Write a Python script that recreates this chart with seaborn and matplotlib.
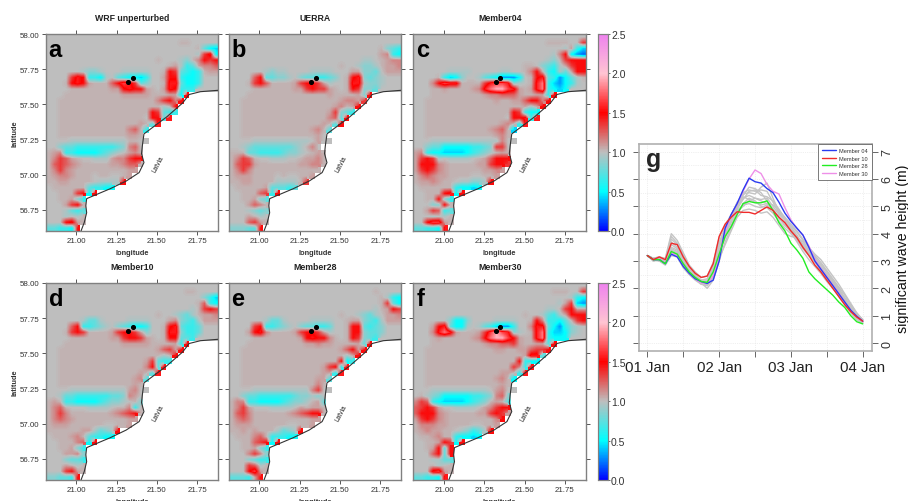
import numpy as np
import pandas as pd
import seaborn as sns
import matplotlib.pyplot as plt
from matplotlib.colors import LinearSegmentedColormap

sns.set_style('white')
plt.rcParams['font.family'] = ['Liberation Sans', 'DejaVu Sans']

# each character is one cell, looked up in code_chars / code_values; '.' = land
code_chars = '0123456789abcdefghijk'
code_values = [0.0, 0.1, 0.2, 0.3, 0.42, 0.52, 0.65, 0.76, 0.86, 0.95, 1.0,
               1.03, 1.08, 1.15, 1.25, 1.35, 1.47, 1.56, 1.66, 1.8, 1.95]

panel_a = [
    'aaaaaaaaaaaaaaaaaaaaaaaaaaaaaa',
    'aaaaaaaaaaaaaaaaaaaaaaabbaaaaa',
    'aaaaaaaaaaaaaaaaaaaaaaaaaab754',
    'aaaaaaaaaaaaaaaaaaaaaaaaaa9fh5',
    'aaaaaaaaaaaaaaaaaaabaaa98bdgfg',
    'aaaaaaaaaaaaaaaaaaaaabc967cdde',
    'aaaaaa9889aaa99999aabgf7656bcc',
    'aaaafhg6659a765546aacgg6556aaa',
    'aaabghgcbbbegihf78aabhh7556aaa',
    'aaaabbbbbbbccghggcbachg666aaaa',
    'aaabbbbbbbbbbcccccbbbcc5g',
    'aabbbbbbbbbbbbbbbbbdfgdg',
    'aabbbbbbbbbbbbbbbbbb9bg',
    'aabbbbbbbbbbbbbbbbgf766',
    'aabbbbbbbbbbbbbbbagg7h',
    'aabbbbbbbbbbbbbbcb7h',
    'aabbbbbbbbbbbbdeb6',
    'aabbbbbbbbbbbbccb',
    'aaaa9999999999bbaa',
    'aa877666666678dea',
    'bcd6655556789acdb',
    'bdfecbaa999cddfgg',
    'befedcbbbbbccdeeb',
    'bdfdcbbbbbbbbbcc',
    'bcddcbbbabbaabc',
    'bbccbbbba9999g',
    'abbbbbb76655',
    'aabbbfg5g',
    'aabbc86',
    'aaacfgb',
    'aaa9767',
    'aaa9a9b',
    'aaaghcb',
    '77665g',
]
panel_b = [
    'aaaaaaaaaaaaaaaaaaaaaaaaaaaaaa',
    'aaaaaaaaaaaaaaaaaaaaaaaaaaaaaa',
    'aaaaaaaaaaaaaaaaaaaaaaaaaab876',
    'aaaaaaaaaaaaaaaaaaaaaaaaaacd65',
    'aaaaaaaaaaaaaaaaaaaaaaa99abcdd',
    'aaaaaaaaaaaaaaaaaaabaa9889bccd',
    'aaaaaa9899aaaa9999aaacc887accc',
    'aaaaeg77889a8776678abgh8789aaa',
    'aaabfgebbbbcfggfc9aabhh9889aaa',
    'aaaabbbbbbbccfgffcbabgf887aaaa',
    'aaabbbbbbbbbbbbbbcbbbbc8g',
    'aabbbbbbbbbbbbbbbbbcddcf',
    'aabbbbbbbbbbbbbbbbcdbcg',
    'aabbbbbbbbbbbbbbbcf876',
    'aabbbbbbbbbbbbbbbde7g',
    'aabbbbbbbbbbbbbbcb7g',
    'aabbbbbbbbbbbbcdb7',
    'aabbbbbbbbbbbbbca',
    'aaaa9999999999acaa',
    'aa98777777789bda',
    'bbb7766667889abcb',
    'bdfebaa999aabccdb',
    'beffcbbbbbbbccddb',
    'bdfdbbbbbbbbbbbb',
    'bcccbbbbabaabbc',
    'bbccbbbb9999bf',
    'abbbbbc77767',
    'aabbbef6g',
    'aabbc87',
    'aaacedb',
    'aaa9878',
    'aaacb9a',
    'aaaefcb',
    '88877g',
]
panel_c = [
    'aaaaaaaaaaaaaaaaaaaaaaaaaaaaaa',
    'aaaaaaaaaaaaaaaaaaaaaaabbbbaaf',
    'aaaaaaaaaaaaaaaaaaaaaaaaaa9c64',
    'aaaaaaaaaaaaaaaaaaaaaaaa9dg532',
    'aaaaaaaaaaaaaaaaaaaaaaa98bfggg',
    'aaaaaaaaaaaaaaaaaaabba8769cfgg',
    'aaaaaa9999aaaaa99aabdgb6597cgg',
    'aaaab6458aa97653335abgh763579b',
    'aaadgihhbbbbfhiih89abhj643569a',
    'aaabbcbbbbcdhjkkihcbchj6545aaa',
    'aaabbbbbbbbbcddeeecbbcc6g',
    'aabbbbbbbbbbbbcbbcceggdg',
    'aabbbbbbbbbbbbbbbbbc9cg',
    'aabbbbbbbbbbbbbbbgf655',
    'aabbbbbbbbbbbbbbaggh6h',
    'aabbbbbbbbbbbbbcdb6h',
    'aabbbbbbbbbbbcdeb4',
    'aabbbbbbbbbbbbcdb',
    'aaa999999999999daa',
    'aa877555556678ffa',
    'cd655444456789bcb',
    'cfgf9a9999abceggg',
    'cgggdcbbbbbccfggf',
    'cfgfdcbbbbbbccdc',
    'bdedccbbbbaabbc',
    'bccdcbba99889g',
    'abbbbbb65545',
    'aabbbgh5g',
    'aabbg86',
    'aaa88gb',
    'aacfe67',
    'aaa9a9b',
    'aagiicb',
    '77665h',
]
panel_d = [
    'aaaaaaaaaaaaaaaaaaaaaaaaaaaaaa',
    'aaaaaaaaaaaaaaaaaaaaaaaabbaaaa',
    'aaaaaaaaaaaaaaaaaaaaaaaaaaa864',
    'aaaaaaaaaaaaaaaaaaaaaaaaaabe65',
    'aaaaaaaaaaaaaaaaaaaaaaaaa9bfgf',
    'aaaaaaaaaaaaaaaaaaabaa9879bccd',
    'aaaaaa9779aaaa9999aaacd8769ccc',
    'aaaaeg66789a876556aabgh7667aaa',
    'aaabfgfbbbbcfggfc8aabhh8667aaa',
    'aaaabbbbbbbccfggfcbabgg776aaaa',
    'aaabbbbbbbbbbcccccbbbbc6g',
    'aabbbbbbbbbbbbbbbbbcefcg',
    'aabbbbbbbbbbbbbbbbbb9bg',
    'aabbbbbbbbbbbbbbbcf766',
    'aabbbbbbbbbbbbbbbdg7h',
    'aabbbbbbbbbbbbbbcb7h',
    'aabbbbbbbbbbbbbcd7',
    'aabbbbbbbbbbbbbcb',
    'aaaa9999999999cdaa',
    'aa977666666778dca',
    'bcb66555567889ab8',
    'bdebaaa9999abbd6b',
    'bdfdbbbbbbbcdefgb',
    'bdedcbbbbbbbbbcc',
    'bcccbbbbbbaabbc',
    'bbbbbbcc9789g',
    'abbbcdb76655',
    'aabbbde5g',
    'aabbc86',
    'aaaccd8',
    'aaa8776',
    'aaacb9b',
    'aaafgcb',
    '88776g',
]
panel_e = [
    'aaaaaaaaaaaaaaaaaaaaaaaaaaaaaa',
    'aaaaaaaaaaaaaaaaaaaaaaaaabaaaa',
    'aaaaaaaaaaaaaaaaaaaaaaaaaab965',
    'aaaaaaaaaaaaaaaaaaaaaaaaaabf75',
    'aaaaaaaaaaaaaaaaaaaaaaaaa9bcgf',
    'aaaaaaaaaaaaaaaaaaabaa9879accd',
    'aaaaaa9779aaaa9999aabcc8769ccc',
    'aaaafg66789a877667aabgg7678aaa',
    'aaacghdbbbbcfggfc9aabgg8778aaa',
    'aaaabbbbbbbbcghggdbabgf876aaaa',
    'aaabbbbbbbbbbccdccbbbbc7g',
    'aabbbbbbbbbbbbbbbbbcegcg',
    'aabbbbbbbbbbbbbbbbbb9cg',
    'aabbbbbbbbbbbbbbbbbg56',
    'aabbbbbbbbbbbbbbcfg6h',
    'aabbbbbbbbbbbbbbcc6h',
    'aabbbbbbbbbbbbbcc7',
    'aabbbbbbbbbbbbbdb',
    'aaaa9999999999dfaa',
    'aa87766666678898a',
    'bdd66555567889bc7',
    'bdfcaaa9999acbccb',
    'befdbbbbbbcdefggb',
    'bdedbbbbbbbbbbcc',
    'bcccbbbbbbaabbc',
    'bbcbcbbb9789g',
    'abbbdeb66655',
    'aabbefg5g',
    'aabbc86',
    'aaadfd8',
    'aaa8766',
    'aaafe9b',
    'aaagicb',
    '7776cg',
]
panel_f = [
    'aaaaaaaaaaaaaaaaaaaaaaaaaaaaaa',
    'aaaaaaaaaaaaaaaaaaaaaaaabbbaaf',
    'aaaaaaaaaaaaaaaaaaaaaaaaaaa965',
    'aaaaaaaaaaaaaaaaaaaaaaaaa9cf43',
    'aaaaaaaaaaaaaaaaaaaaaaa99bfgcc',
    'aaaaaaaaaaaaaaaaaaabaa9769cggg',
    'aaaaaa8558aaaa9999aabgd6657bfg',
    'aaacgh7559a9764336aadhh753689a',
    'aaadhjhcbbbcfikih89abhj644589a',
    'aaabcbbbbbcdgjkkigcbbhj6555aaa',
    'aaabbbbbbbbbcddeefcbbcc7g',
    'aabbbbbbbbbbbbccbbcceffg',
    'aabbbbbbbbbbbbbbbbbchh7',
    'aabbbbbbbbbbbbbbbbg655',
    'aabbbbbbbbbbbbbbbfd6h',
    'aabbbbbbbbbbbbbccb6h',
    'aabbbbbbbbbbbbcdb5',
    'aabbbbbbbbbbbbbcb',
    'aaa9999999999acdaa',
    'ab987555556678de8',
    'dfe6544445678bcb7',
    'efgfcaa9999acdfgg',
    'egggdcbbbbbccfgfc',
    'cfgfdcbbbbbbbbdg',
    'bdddccbbbbaabbc',
    'bcdccbba98679g',
    'abbcdbb65545',
    'aabbcgf5g',
    'aabcg7g',
    'aaaeg7g',
    'aaa9977',
    'aaab9ab',
    'aaahicb',
    '77665h',
]

panel_names = ['WRF unperturbed', 'UERRA', 'Member04', 'Member10', 'Member28', 'Member30']
panel_letters = ['a', 'b', 'c', 'd', 'e', 'f']
panel_rows = [panel_a, panel_b, panel_c, panel_d, panel_e, panel_f]

coast_lon = [21.88, 21.77, 21.70, 21.66, 21.56, 21.49, 21.42, 21.41, 21.405, 21.42, 21.39, 21.31, 21.21, 21.065, 21.06, 21.065, 21.05, 21.03]
coast_lat = [57.60, 57.59, 57.57, 57.51, 57.41, 57.35, 57.29, 57.205, 57.15, 57.086, 57.015, 56.955, 56.90, 56.83, 56.78, 56.73, 56.66, 56.60]
point_lon = [21.35, 21.32]
point_lat = [57.69, 57.66]

lon_ticks = [21.00, 21.25, 21.50, 21.75]
lat_ticks = [56.75, 57.00, 57.25, 57.50, 57.75, 58.00]
cbar_ticks = [0.0, 0.5, 1.0, 1.5, 2.0, 2.5]

hours = list(range(0, 73, 2))
member04 = [3.2, 3.05, 3.05, 2.9, 3.25, 3.15, 2.8, 2.55, 2.35, 2.25, 2.18, 2.3, 3.0, 4.2, 4.7, 5.1, 5.6, 6.03, 5.9, 5.85, 5.65, 5.5, 5.15, 4.75, 4.45, 4.2, 3.95, 3.5, 3.0, 2.7, 2.4, 2.1, 1.8, 1.5, 1.2, 0.98, 0.8]
member10 = [3.2, 3.05, 3.15, 3.05, 3.65, 3.6, 3.15, 2.8, 2.55, 2.4, 2.45, 2.9, 3.9, 4.35, 4.6, 4.8, 4.78, 4.78, 4.72, 4.85, 4.98, 4.85, 4.6, 4.4, 4.1, 3.85, 3.5, 3.2, 2.85, 2.6, 2.3, 2.0, 1.7, 1.4, 1.15, 0.95, 0.8]
member28 = [3.2, 3.05, 3.05, 2.9, 3.35, 3.25, 2.9, 2.6, 2.4, 2.25, 2.22, 2.6, 3.25, 3.9, 4.25, 4.7, 5.1, 5.18, 5.13, 5.13, 5.2, 4.85, 4.4, 4.1, 3.65, 3.4, 3.1, 2.6, 2.35, 2.15, 1.95, 1.75, 1.5, 1.3, 1.0, 0.78, 0.7]
member30 = [3.2, 3.05, 3.05, 2.95, 3.3, 3.2, 2.85, 2.55, 2.35, 2.2, 2.2, 2.45, 3.2, 4.1, 4.65, 5.1, 5.55, 6.0, 6.33, 6.2, 5.8, 5.55, 5.45, 4.95, 4.5, 4.2, 3.95, 3.55, 3.05, 2.72, 2.42, 2.12, 1.82, 1.5, 1.2, 0.96, 0.8]
gray01 = [3.2, 3.1, 3.15, 3.1, 4.0, 3.75, 3.3, 2.85, 2.6, 2.4, 2.45, 2.95, 3.85, 4.3, 4.7, 5.1, 5.45, 5.5, 5.45, 5.7, 5.85, 5.3, 4.8, 4.55, 4.25, 3.95, 3.6, 3.3, 3.0, 2.75, 2.45, 2.2, 1.9, 1.6, 1.3, 1.0, 0.8]
gray02 = [3.2, 3.05, 3.0, 2.85, 3.2, 3.15, 2.75, 2.5, 2.3, 2.15, 2.1, 2.4, 3.1, 3.6, 4.1, 4.6, 4.85, 4.9, 4.85, 4.75, 4.8, 4.6, 4.3, 4.0, 3.9, 3.85, 3.7, 3.35, 3.05, 2.7, 2.4, 2.1, 1.85, 1.6, 1.3, 1.05, 0.85]
gray03 = [3.2, 3.05, 3.05, 3.0, 3.8, 3.6, 3.1, 2.7, 2.45, 2.25, 2.2, 2.6, 3.5, 4.05, 4.45, 5.0, 5.3, 5.4, 5.3, 5.25, 5.3, 5.0, 4.7, 4.5, 4.2, 3.9, 3.55, 3.3, 3.1, 2.9, 2.6, 2.3, 1.95, 1.6, 1.25, 1.0, 0.8]
gray04 = [3.2, 3.1, 3.1, 3.0, 3.5, 3.4, 3.0, 2.65, 2.4, 2.2, 2.1, 2.45, 3.3, 3.95, 4.4, 4.9, 5.25, 5.55, 5.6, 5.4, 5.35, 5.2, 4.9, 4.55, 4.3, 4.05, 3.75, 3.4, 3.15, 2.85, 2.6, 2.3, 2.0, 1.65, 1.35, 1.05, 0.85]
gray05 = [3.2, 3.0, 3.05, 2.9, 3.6, 3.45, 3.05, 2.75, 2.5, 2.3, 2.3, 2.75, 3.6, 4.15, 4.55, 4.85, 5.05, 5.1, 5.0, 4.95, 5.05, 4.9, 4.6, 4.3, 4.1, 3.8, 3.45, 3.2, 3.0, 2.75, 2.5, 2.2, 1.9, 1.55, 1.25, 0.95, 0.75]
gray06 = [3.2, 3.05, 3.1, 3.05, 3.4, 3.3, 2.95, 2.6, 2.4, 2.2, 2.0, 2.3, 3.0, 3.7, 4.2, 4.7, 5.1, 5.3, 5.2, 5.0, 4.95, 4.75, 4.45, 4.2, 4.0, 3.75, 3.5, 3.25, 2.95, 2.65, 2.35, 2.05, 1.75, 1.45, 1.15, 0.9, 0.75]
gray07 = [3.2, 3.1, 3.15, 3.05, 3.9, 3.65, 3.25, 2.8, 2.5, 2.3, 2.35, 2.85, 3.7, 4.2, 4.6, 5.05, 5.5, 5.6, 5.55, 5.6, 5.55, 5.15, 4.75, 4.5, 4.15, 3.85, 3.6, 3.4, 3.2, 2.95, 2.65, 2.35, 2.05, 1.75, 1.4, 1.1, 0.85]
gray08 = [3.2, 3.05, 3.0, 2.95, 3.3, 3.25, 2.9, 2.6, 2.35, 2.15, 2.15, 2.5, 3.3, 3.85, 4.3, 4.8, 5.0, 5.2, 5.3, 5.2, 5.1, 4.85, 4.6, 4.4, 4.05, 3.7, 3.35, 3.05, 2.8, 2.55, 2.25, 2.0, 1.7, 1.4, 1.1, 0.85, 0.72]
gray09 = [3.2, 3.05, 3.05, 3.0, 3.7, 3.5, 3.05, 2.7, 2.45, 2.25, 2.25, 2.7, 3.6, 4.2, 4.65, 5.15, 5.35, 5.25, 5.15, 5.05, 5.1, 5.05, 4.85, 4.6, 4.35, 4.1, 3.8, 3.5, 3.25, 3.05, 2.75, 2.45, 2.15, 1.8, 1.45, 1.1, 0.85]
gray10 = [3.2, 3.0, 3.05, 2.9, 3.45, 3.35, 2.95, 2.6, 2.35, 2.2, 2.2, 2.55, 3.4, 4.0, 4.5, 4.95, 5.4, 5.7, 5.65, 5.5, 5.2, 4.9, 4.55, 4.3, 4.1, 3.9, 3.6, 3.3, 3.05, 2.8, 2.5, 2.25, 1.95, 1.65, 1.3, 1.0, 0.8]
gray_members = [gray01, gray02, gray03, gray04, gray05, gray06, gray07, gray08, gray09, gray10]
day_labels = ['01 Jan', '02 Jan', '03 Jan', '04 Jan']
wave_ticks = [0, 1, 2, 3, 4, 5, 6, 7]

W, H = 908, 502
NCOL, NROW = 30, 34
LON0, LON1 = 20.81, 21.88
LAT0, LAT1 = 58.0, 56.6
EDGE = '#808080'
TICKTXT = '#333333'

ratio_cmap = LinearSegmentedColormap.from_list('ratio', [
    (0.0, '#0000ff'), (0.2, '#00ffff'), (0.4, '#bebebe'),
    (0.6, '#ff0000'), (0.8, '#ffc4d2'), (1.0, '#ee82ee')])


def px_axes(left, top, right, bottom):
    return fig.add_axes([left / W, 1 - bottom / H, (right - left) / W, (bottom - top) / H])


def x_cell(lon):
    return (np.asarray(lon) - LON0) / (LON1 - LON0) * NCOL


def y_cell(lat):
    return (LAT0 - np.asarray(lat)) / (LAT0 - LAT1) * NROW


def decode(rows):
    out = []
    for r in rows:
        r = r.ljust(NCOL, '.')
        out.append([np.nan if ch == '.' else code_values[code_chars.index(ch)] for ch in r])
    return pd.DataFrame(out)


fig = plt.figure(figsize=(W / 100, H / 100), dpi=100)

lefts = [45.5, 228.5, 413.3]
tops = [35, 284]
for i in range(6):
    col, row = i % 3, i // 3
    left, top = lefts[col], tops[row]
    ax = px_axes(left, top, left + 172.7, top + 197)
    cax = None
    if col == 2:
        cax = px_axes(597.5, top, 607.5, top + 197)
    field = decode(panel_rows[i])
    sns.heatmap(field, ax=ax, cmap=ratio_cmap, vmin=0, vmax=2.5,
                cbar=col == 2, cbar_ax=cax, xticklabels=False, yticklabels=False)
    # soften the cells like the printed figure; the heatmap still shows at the coast
    ax.imshow(field.values, cmap=ratio_cmap, vmin=0, vmax=2.5, aspect='auto',
              extent=(0, NCOL, NROW, 0), interpolation='bilinear', zorder=1.5)

    ax.plot(x_cell(coast_lon), y_cell(coast_lat), color='#333333', lw=0.8, zorder=3)
    ax.scatter(x_cell(point_lon), y_cell(point_lat), s=7, color='black', zorder=5)
    ax.text(x_cell(21.51), y_cell(57.08), 'Latvia', rotation=62, fontsize=4.8,
            ha='center', va='center', color='#222222')
    ax.text(0.018, 0.98, panel_letters[i], transform=ax.transAxes, fontsize=17,
            fontweight='bold', ha='left', va='top', color='black')

    ax.set_xlim(0, NCOL)
    ax.set_ylim(NROW, 0)
    ax.set_xticks(x_cell(lon_ticks))
    ax.set_yticks(y_cell(lat_ticks))
    ax.set_xticklabels(['%.2f' % v for v in lon_ticks], rotation=0)
    if col == 0:
        ax.set_yticklabels(['%.2f' % v for v in lat_ticks], rotation=0)
        ax.set_ylabel('latitude', fontsize=5.3, fontweight='bold', color=TICKTXT, labelpad=0.5)
    else:
        ax.set_yticklabels([])
    ax.set_xlabel('longitude', fontsize=5.3, fontweight='bold', color=TICKTXT, labelpad=3.2)
    ax.set_title(panel_names[i], fontsize=6.3, fontweight='bold', color='#222222', pad=10)
    ax.tick_params(axis='both', which='major', length=3, width=0.7, color='#555555',
                   labelsize=5.7, labelcolor=TICKTXT, top=True, right=True, left=True,
                   bottom=True, pad=1.5)
    for spine in ax.spines.values():
        spine.set_visible(True)
        spine.set_color(EDGE)
        spine.set_linewidth(1.0)

    if cax is not None:
        cax.set_yticks(cbar_ticks)
        cax.set_yticklabels(['%.1f' % v for v in cbar_ticks])
        cax.tick_params(length=1.5, width=0.6, labelsize=7.5, labelcolor='#333333', pad=1,
                        color='#555555')
        for spine in cax.spines.values():
            spine.set_visible(True)
            spine.set_color(EDGE)
            spine.set_linewidth(0.8)

# panel g
ax = px_axes(639, 145, 871.7, 351.7)
for g in gray_members:
    sns.lineplot(x=hours, y=g, ax=ax, color='#c4c4c4', lw=1.0, legend=False, zorder=2)
sns.lineplot(x=hours, y=member30, ax=ax, color='#ee8fe8', lw=1.0, label='Member 30', zorder=3)
sns.lineplot(x=hours, y=member04, ax=ax, color='#2a3cf0', lw=1.0, label='Member 04', zorder=4)
sns.lineplot(x=hours, y=member28, ax=ax, color='#22ee22', lw=1.0, label='Member 28', zorder=5)
sns.lineplot(x=hours, y=member10, ax=ax, color='#f02a2a', lw=1.0, label='Member 10', zorder=6)
ax.set_xlim(-2.8, 75.0)
ax.set_ylim(-0.28, 7.28)
ax.set_xticks(range(0, 73, 24))
ax.set_xticklabels(day_labels)
ax.set_xticks(range(12, 72, 24), minor=True)
ax.set_yticks(wave_ticks)
ax.set_yticklabels(wave_ticks, rotation=90, va='center')
ax.set_yticks(np.arange(0.5, 7, 1), minor=True)
ax.grid(which='both', color='#e2e2e2', lw=0.5, ls=':')
ax.yaxis.set_ticks_position('both')
ax.yaxis.set_label_position('right')
ax.tick_params(axis='y', which='major', labelleft=False, labelright=True, left=True, right=True,
               length=4, width=0.7, color='#666666', labelsize=9, labelcolor='#333333', pad=3)
ax.tick_params(axis='y', which='minor', left=False, right=False)
ax.tick_params(axis='x', which='both', bottom=True, length=4, width=0.7, color='#666666',
               labelsize=10.8, labelcolor='#222222', pad=3)
ax.set_ylabel('significant wave height (m)', fontsize=10.2, color='#111111', labelpad=2)
ax.set_xlabel('')
for spine in ax.spines.values():
    spine.set_visible(True)
    spine.set_color('#b0b0b0')
    spine.set_linewidth(1.2)
ax.text(0.03, 0.985, 'g', transform=ax.transAxes, fontsize=18, fontweight='bold', va='top', ha='left')

handles, labels = ax.get_legend_handles_labels()
order = [labels.index(n) for n in ['Member 04', 'Member 10', 'Member 28', 'Member 30']]
leg = ax.legend([handles[j] for j in order], [labels[j] for j in order], loc='upper right',
                fontsize=4.1, frameon=True, fancybox=False, framealpha=1, edgecolor='#666666',
                borderaxespad=0, labelspacing=0.45, handlelength=2.3, borderpad=0.7,
                handletextpad=0.6)
leg.get_frame().set_linewidth(0.6)
for txt in leg.get_texts():
    txt.set_color('#333333')

fig.savefig('out.png', dpi=100, facecolor='white')
